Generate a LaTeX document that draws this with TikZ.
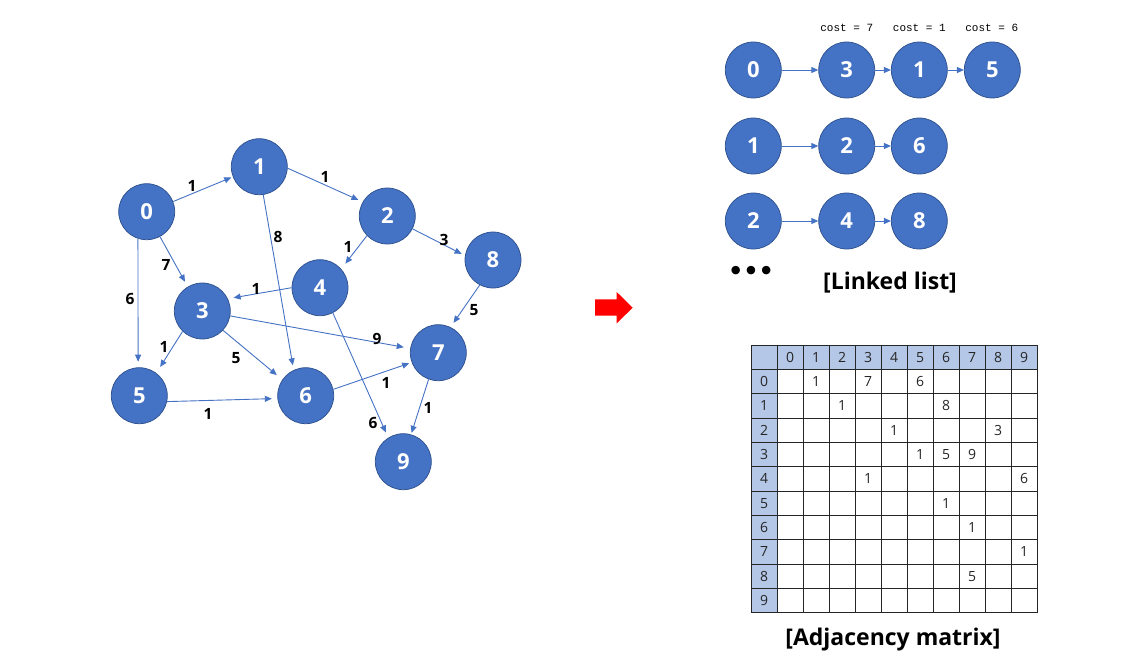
\documentclass[tikz,border=0pt]{standalone}
\usepackage{fontspec}
\setmainfont{Open Sans}
\newfontfamily\costfont{Liberation Mono}
\newfontfamily\dotfont{DejaVu Sans}
\usetikzlibrary{arrows.meta}
\definecolor{nodeblue}{HTML}{4472C4}
\definecolor{nodeedge}{HTML}{2F528F}
\definecolor{hdrblue}{HTML}{B4C7E7}
\definecolor{txtgray}{HTML}{262626}
\begin{document}
\begin{tikzpicture}[x=1pt,y=-1pt,
  vtx/.style={circle, fill=nodeblue, draw=nodeedge, line width=0.75pt, minimum size=56pt, inner sep=0pt, text=white, font=\fontsize{22}{22}\selectfont\bfseries},
  arc/.style={draw=nodeblue, line width=0.9pt, -{Triangle[length=7pt,width=6pt]}},
  wlabel/.style={font=\fontsize{15.5}{15.5}\selectfont\bfseries, inner sep=0pt},
  costlabel/.style={font=\costfont\fontsize{11}{11}\selectfont, inner sep=0pt},
  title/.style={font=\fontsize{23}{23}\selectfont\bfseries, inner sep=0pt},
  celltext/.style={font=\fontsize{14}{14}\selectfont, text=txtgray, inner sep=0pt},
  gridline/.style={draw=black!85, line width=0.9pt}
]
\useasboundingbox (0,0) rectangle (1137,671);

% ---------------- graph ----------------
\node[vtx] (n0) at (146.7,211.7) {0};
\node[vtx] (n1) at (259.3,166.7) {1};
\node[vtx] (n2) at (387.3,216) {2};
\node[vtx] (n8) at (493,260) {8};
\node[vtx] (n4) at (320,287.7) {4};
\node[vtx] (n3) at (202.3,311) {3};
\node[vtx] (n7) at (438.3,352.7) {7};
\node[vtx] (n5) at (139.3,395.7) {5};
\node[vtx] (n6) at (305.7,395.7) {6};
\node[vtx] (n9) at (403.3,461.7) {9};

\draw[arc] (n0.21)   -- ([shift={(201:30pt)}]n1.center);
\draw[arc] (n1.-3)   -- ([shift={(151:33pt)}]n2.center);
\draw[arc] (n1.-82)  -- ([shift={(113:33pt)}]n6.center);
\draw[arc] (n2.-136) -- ([shift={(43.5:35pt)}]n4.center);
\draw[arc] (n2.-27)  -- ([shift={(169:32pt)}]n8.center);
\draw[arc] (n0.-62)  -- ([shift={(120.6:34pt)}]n3.center);
\draw[arc] (n0.-108) -- ([shift={(92:34pt)}]n5.center);
\draw[arc] (n4.180)  -- ([shift={(23:34pt)}]n3.center);
\draw[arc] (n8.-118) -- ([shift={(63:33.5pt)}]n7.center);
\draw[arc] (n3.-10)  -- ([shift={(171:35pt)}]n7.center);
\draw[arc] (n3.-134) -- ([shift={(54:35.5pt)}]n5.center);
\draw[arc] (n3.-43)  -- ([shift={(144.5:35.5pt)}]n6.center);
\draw[arc] (n6.13)   -- ([shift={(200:31pt)}]n7.center);
\draw[arc] (n5.-12)  -- ([shift={(185:34pt)}]n6.center);
\draw[arc] (n4.-63)  -- ([shift={(120.8:34pt)}]n9.center);
\draw[arc] (n7.-110) -- ([shift={(74:30pt)}]n9.center);

\node[wlabel] (w01) at (192,186) {1};
\node[wlabel] (w12) at (325,177) {1};
\node[wlabel] (w16) at (278,237) {8};
\node[wlabel] (w24) at (348,247) {1};
\node[wlabel] (w28) at (444,240) {3};
\node[wlabel] (w03) at (166,265) {7};
\node[wlabel] (w05) at (130,299) {6};
\node[wlabel] (w43) at (256,289) {1};
\node[wlabel] (w87) at (474,310) {5};
\node[wlabel] (w37) at (377,339) {9};
\node[wlabel] (w35) at (164,347) {1};
\node[wlabel] (w36) at (236,358) {5};
\node[wlabel] (w67) at (386,383) {1};
\node[wlabel] (w56) at (208,414) {1};
\node[wlabel] (w49) at (373,423) {6};
\node[wlabel] (w79) at (428,408) {1};

% ---------------- red arrow ----------------
\fill[red] (595,299.3) -- (616.7,299.3) -- (616.7,292) -- (632.7,307.7) -- (616.7,323.3) -- (616.7,315.7) -- (595,315.7) -- cycle;

% ---------------- linked list ----------------
\node[vtx] (a0) at (753.3,70) {0};
\node[vtx] (a3) at (846.7,70) {3};
\node[vtx] (a1) at (919.3,70) {1};
\node[vtx] (a5) at (992.3,70) {5};
\node[vtx] (b1) at (753.3,146) {1};
\node[vtx] (b2) at (846.7,146) {2};
\node[vtx] (b6) at (919.3,146) {6};
\node[vtx] (c2) at (753.3,221) {2};
\node[vtx] (c4) at (846.7,221) {4};
\node[vtx] (c8) at (919.3,221) {8};
\draw[arc] (a0) -- (a3);
\draw[arc] (a3) -- (a1);
\draw[arc] (a1) -- (a5);
\draw[arc] (b1) -- (b2);
\draw[arc] (b2) -- (b6);
\draw[arc] (c2) -- (c4);
\draw[arc] (c4) -- (c8);
\node[costlabel] (k3) at (846.7,28.3) {cost = 7};
\node[costlabel] (k1) at (919.3,28.3) {cost = 1};
\node[costlabel] (k5) at (991.7,28.3) {cost = 6};
\node[font=\dotfont\fontsize{24}{24}\selectfont\bfseries, inner sep=0pt] (dots) at (751,273) {•••};
\node[title] (lltitle) at (890,283) {[Linked list]};

% ---------------- adjacency matrix ----------------
\fill[hdrblue] (751,345) rectangle (1037,369.33);
\fill[hdrblue] (751,345) rectangle (777,612.67);
\foreach \k in {0,...,11} \draw[gridline] (751,345+24.333*\k) -- (1037,345+24.333*\k);
\draw[gridline] (751,345) -- (751,612.67);
\foreach \c in {0,...,10} \draw[gridline] (777+26*\c,345) -- (777+26*\c,612.67);
\foreach \i in {0,...,9} {
  \node[celltext] (h\i) at (790+26*\i,357.2) {\i};
  \node[celltext] (r\i) at (764,381.5+24.333*\i) {\i};
}
\foreach \r/\c/\v in {0/1/1,0/3/7,0/5/6,1/2/1,1/6/8,2/4/1,2/8/3,3/5/1,3/6/5,3/7/9,4/3/1,4/9/6,5/6/1,6/7/1,7/9/1,8/7/5}
  \node[celltext] (m\r\c) at (790+26*\c,381.5+24.333*\r) {\v};
\node[title] (amtitle) at (893,640) {[Adjacency matrix]};
\end{tikzpicture}
\end{document}
